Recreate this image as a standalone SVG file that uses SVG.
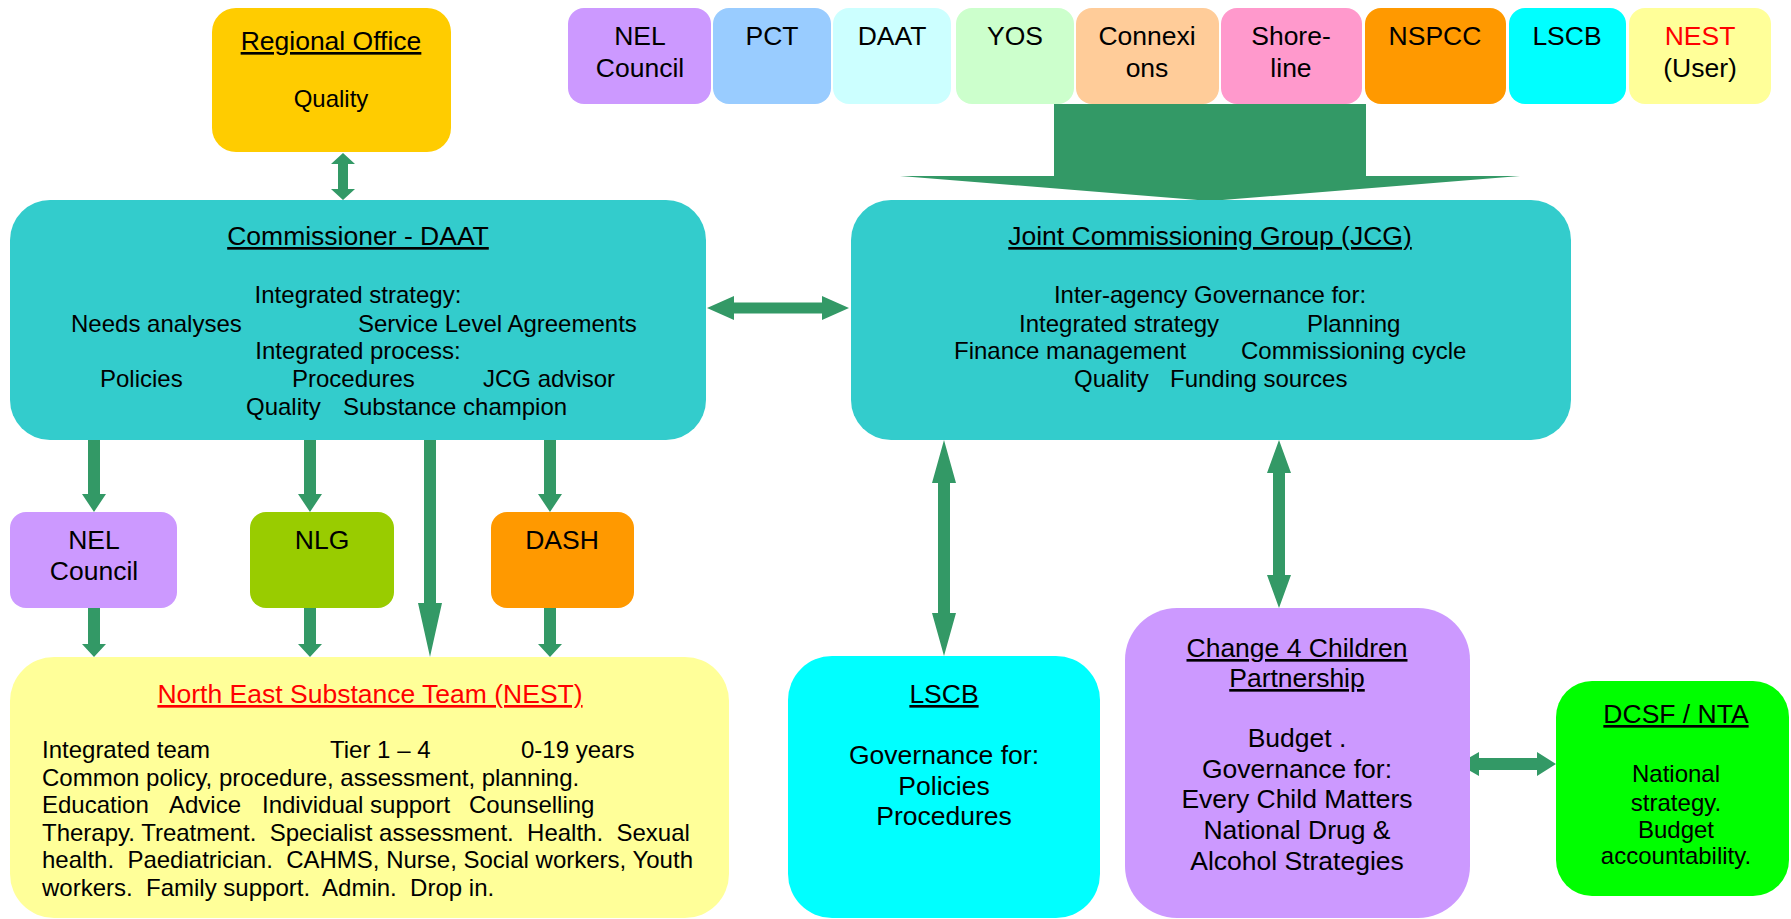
<svg xmlns="http://www.w3.org/2000/svg" width="1791" height="919" viewBox="0 0 1791 919">
<defs>
<style>
text{font-family:"Liberation Sans",Arial,sans-serif;fill:#000;}
.t{font-size:26.5px;text-anchor:middle;}
.u{text-decoration:underline;}
.b{font-size:24px;text-anchor:middle;}
.bs{font-size:24px;text-anchor:start;}
.red{fill:#FF0000;}
.arr{fill:#339966;stroke:none;}
</style>
</defs>
<rect width="1791" height="919" fill="#FFFFFF"/>

<g id="connectors">
<polygon class="arr" points="1054,104 1366,104 1366,176 1520,176 1210,201 900,176 1054,176"/>
<polygon class="arr" points="343,153 355,164 348,164 348,189 355,189 343,200 331,189 338,189 338,164 331,164"/>
<polygon class="arr" points="707,308 734,296 734,302.5 822,302.5 822,296 849,308 822,320 822,313.5 734,313.5 734,320"/>
<polygon class="arr" points="88,440 100,440 100,494 106,494 94,512 82,494 88,494"/>
<polygon class="arr" points="304,440 316,440 316,494 322,494 310,512 298,494 304,494"/>
<polygon class="arr" points="544,440 556,440 556,494 562,494 550,512 538,494 544,494"/>
<polygon class="arr" points="88,608 100,608 100,644 106,644 94,657 82,644 88,644"/>
<polygon class="arr" points="304,608 316,608 316,644 322,644 310,657 298,644 304,644"/>
<polygon class="arr" points="544,608 556,608 556,644 562,644 550,657 538,644 544,644"/>
<polygon class="arr" points="424,440 436,440 436,603 442,603 430,657 418,603 424,603"/>
<polygon class="arr" points="944,440 956,483 950,483 950,613 956,613 944,656 932,613 938,613 938,483 932,483"/>
<polygon class="arr" points="1279,440 1291,473 1285,473 1285,575 1291,575 1279,608 1267,575 1273,575 1273,473 1267,473"/>
<polygon class="arr" points="1458,764 1479,752 1479,758 1537,758 1537,752 1556,764 1537,776 1537,770 1479,770 1479,776"/>
</g>

<g id="regional-office">
<rect x="212" y="8" width="239" height="144" rx="24" fill="#FFCC00"/>
<text class="t u" x="331" y="50">Regional Office</text>
<text class="b" x="331" y="107">Quality</text>
</g>

<g id="top-nel-council">
<rect x="568" y="8" width="143" height="96" rx="16" fill="#CC99FF"/>
<text class="t" x="640" y="45">NEL</text>
<text class="t" x="640" y="77">Council</text>
</g>
<g id="top-pct">
<rect x="713" y="8" width="118" height="96" rx="16" fill="#99CCFF"/>
<text class="t" x="772" y="45">PCT</text>
</g>
<g id="top-daat">
<rect x="833" y="8" width="118" height="96" rx="16" fill="#CCFFFF"/>
<text class="t" x="892" y="45">DAAT</text>
</g>
<g id="top-yos">
<rect x="956" y="8" width="118" height="96" rx="16" fill="#CCFFCC"/>
<text class="t" x="1015" y="45">YOS</text>
</g>
<g id="top-connexions">
<rect x="1076" y="8" width="143" height="96" rx="16" fill="#FFCC99"/>
<text class="t" x="1147" y="45">Connexi</text>
<text class="t" x="1147" y="77">ons</text>
</g>
<g id="top-shoreline">
<rect x="1221" y="8" width="141" height="96" rx="16" fill="#FF99CC"/>
<text class="t" x="1291" y="45">Shore-</text>
<text class="t" x="1291" y="77">line</text>
</g>
<g id="top-nspcc">
<rect x="1365" y="8" width="141" height="96" rx="16" fill="#FF9900"/>
<text class="t" x="1435" y="45">NSPCC</text>
</g>
<g id="top-lscb">
<rect x="1509" y="8" width="117" height="96" rx="16" fill="#00FFFF"/>
<text class="t" x="1567" y="45">LSCB</text>
</g>
<g id="top-nest">
<rect x="1629" y="8" width="142" height="96" rx="16" fill="#FFFF99"/>
<text class="t red" x="1700" y="45">NEST</text>
<text class="t" x="1700" y="77">(User)</text>
</g>

<g id="commissioner-daat">
<rect x="10" y="200" width="696" height="240" rx="40" fill="#33CCCC"/>
<text class="t u" x="358" y="245">Commissioner - DAAT</text>
<text class="b" x="358" y="303">Integrated strategy:</text>
<text class="bs" x="71" y="332">Needs analyses</text>
<text class="bs" x="358" y="332">Service Level Agreements</text>
<text class="b" x="358" y="359">Integrated process:</text>
<text class="bs" x="100" y="387">Policies</text>
<text class="bs" x="292" y="387">Procedures</text>
<text class="bs" x="483" y="387">JCG advisor</text>
<text class="bs" x="246" y="415">Quality</text>
<text class="bs" x="343" y="415">Substance champion</text>
</g>

<g id="jcg">
<rect x="851" y="200" width="720" height="240" rx="40" fill="#33CCCC"/>
<text class="t u" x="1210" y="245">Joint Commissioning Group (JCG)</text>
<text class="b" x="1210" y="303">Inter-agency Governance for:</text>
<text class="bs" x="1019" y="332">Integrated strategy</text>
<text class="bs" x="1307" y="332">Planning</text>
<text class="bs" x="954" y="359">Finance management</text>
<text class="bs" x="1241" y="359">Commissioning cycle</text>
<text class="bs" x="1074" y="387">Quality</text>
<text class="bs" x="1170" y="387">Funding sources</text>
</g>

<g id="nel-council">
<rect x="10" y="512" width="167" height="96" rx="16" fill="#CC99FF"/>
<text class="t" x="94" y="549">NEL</text>
<text class="t" x="94" y="580">Council</text>
</g>
<g id="nlg">
<rect x="250" y="512" width="144" height="96" rx="16" fill="#99CC00"/>
<text class="t" x="322" y="549">NLG</text>
</g>
<g id="dash">
<rect x="491" y="512" width="143" height="96" rx="16" fill="#FF9900"/>
<text class="t" x="562" y="549">DASH</text>
</g>

<g id="nest">
<rect x="10" y="657" width="719" height="261" rx="44" fill="#FFFF99"/>
<text class="t u red" x="370" y="703">North East Substance Team (NEST)</text>
<text class="bs" x="42" y="758">Integrated team</text>
<text class="bs" x="330" y="758">Tier 1 – 4</text>
<text class="bs" x="521" y="758">0-19 years</text>
<text class="bs" x="42" y="786">Common policy, procedure, assessment, planning.</text>
<text class="bs" x="42" y="813">Education</text>
<text class="bs" x="169" y="813">Advice</text>
<text class="bs" x="262" y="813">Individual support</text>
<text class="bs" x="469" y="813">Counselling</text>
<text class="bs" x="42" y="841" xml:space="preserve">Therapy. Treatment.  Specialist assessment.  Health.  Sexual</text>
<text class="bs" x="42" y="868" xml:space="preserve">health.  Paediatrician.  CAHMS, Nurse, Social workers, Youth</text>
<text class="bs" x="42" y="896" xml:space="preserve">workers.  Family support.  Admin.  Drop in.</text>
</g>

<g id="lscb">
<rect x="788" y="656" width="312" height="262" rx="44" fill="#00FFFF"/>
<text class="t u" x="944" y="703">LSCB</text>
<text class="t" x="944" y="764">Governance for:</text>
<text class="t" x="944" y="795">Policies</text>
<text class="t" x="944" y="825">Procedures</text>
</g>

<g id="change4children">
<rect x="1125" y="608" width="345" height="310" rx="52" fill="#CC99FF"/>
<text class="t u" x="1297" y="657">Change 4 Children</text>
<text class="t u" x="1297" y="687">Partnership</text>
<text class="t" x="1297" y="747">Budget .</text>
<text class="t" x="1297" y="778">Governance for:</text>
<text class="t" x="1297" y="808">Every Child Matters</text>
<text class="t" x="1297" y="839">National Drug &amp;</text>
<text class="t" x="1297" y="870">Alcohol Strategies</text>
</g>

<g id="dcsf-nta">
<rect x="1556" y="681" width="233" height="215" rx="36" fill="#00FF00"/>
<text class="t u" x="1676" y="723">DCSF / NTA</text>
<text class="b" x="1676" y="782">National</text>
<text class="b" x="1676" y="811">strategy.</text>
<text class="b" x="1676" y="838">Budget</text>
<text class="b" x="1676" y="864">accountability.</text>
</g>
</svg>
